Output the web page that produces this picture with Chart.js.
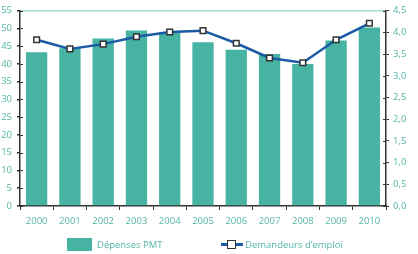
<!DOCTYPE html>
<html>
<head>
<meta charset="utf-8">
<script src="https://cdn.jsdelivr.net/npm/chart.js@4.4.1/dist/chart.umd.min.js"></script>
<style>
    body { margin: 0; background: #fff; }
    #wrap { position: relative; width: 418px; height: 254px; }
    .legend { position: absolute; top: 237px; height: 14px; display: flex; align-items: center;
              font-family: "Open Sans", sans-serif; font-size: 9.5px; color: #52b6a7; }
    .patch { width: 25px; height: 13px; background: #47b3a3; margin-right: 5px; }
    .lineKey { position: relative; width: 22px; height: 13px; margin-right: 2px; }
    .lineKey::before { content: ''; position: absolute; left: 0; right: 0; top: 5px; height: 3px; background: #1b5aa5; }
    .lineKey::after { content: ''; position: absolute; left: 6px; top: 2px; width: 7px; height: 7px;
                      background: #fff; border: 1.5px solid #333; }
</style>
</head>
<body>
<div id="wrap">
    <canvas id="chart"></canvas>
    <div class="legend" style="left:67px"><span class="patch"></span>Dépenses PMT</div>
    <div class="legend" style="left:221px"><span class="lineKey"></span>Demandeurs d’emploi</div>
</div>
<script>
const years = ['2000', '2001', '2002', '2003', '2004', '2005', '2006', '2007', '2008', '2009', '2010'];
const depensesPMT = [43.3, 44.4, 47.2, 49.4, 48.7, 46.1, 44.0, 42.8, 40.0, 46.6, 50.3];
const demandeursEmploi = [3.83, 3.62, 3.73, 3.90, 4.01, 4.04, 3.75, 3.41, 3.30, 3.83, 4.21];

const tealText = '#52b6a7';
const axisColor = '#333';
const tickFont = { family: 'Open Sans', size: 9.5 };

// inner half of the tick marks on both value axes (ticks cross the axis line)
const crossTicks = {
    id: 'crossTicks',
    afterDraw(chart) {
        const ctx = chart.ctx;
        ctx.save();
        ctx.strokeStyle = axisColor;
        ctx.lineWidth = 1;
        ['y', 'y1'].forEach(function (id) {
            const scale = chart.scales[id];
            const x = id === 'y' ? scale.right : scale.left;
            const dir = id === 'y' ? 1 : -1;
            scale.ticks.forEach(function (t, i) {
                const py = Math.round(scale.getPixelForTick(i)) + 0.5;
                ctx.beginPath();
                ctx.moveTo(x, py);
                ctx.lineTo(x + dir * 3, py);
                ctx.stroke();
            });
        });
        ctx.restore();
    }
};

new Chart(document.getElementById('chart'), {
    data: {
        labels: years,
        datasets: [{
            type: 'line',
            label: 'Demandeurs d’emploi',
            data: demandeursEmploi,
            yAxisID: 'y1',
            borderColor: '#1b5aa5',
            borderWidth: 2.5,
            tension: 0,
            pointStyle: 'rect',
            pointRadius: 4,
            pointBackgroundColor: '#fff',
            pointBorderColor: '#333',
            pointBorderWidth: 1.5,
            order: 0
        }, {
            type: 'bar',
            label: 'Dépenses PMT',
            data: depensesPMT,
            yAxisID: 'y',
            backgroundColor: '#47b3a3',
            categoryPercentage: 1,
            barPercentage: 0.64,
            order: 1
        }]
    },
    options: {
        responsive: true,
        maintainAspectRatio: false,
        animation: false,
        layout: { padding: { top: 10, bottom: 30, left: 0, right: 0 } },
        plugins: { legend: { display: false }, tooltip: { enabled: false } },
        scales: {
            x: {
                afterFit: function (s) { s.height = 18; },
                grid: { drawOnChartArea: false, offset: true, tickLength: 4, tickColor: axisColor },
                border: { color: axisColor, width: 1.5 },
                ticks: { color: tealText, font: tickFont, padding: 6 }
            },
            y: {
                position: 'left',
                min: 0,
                max: 55,
                afterFit: function (s) { s.width = 20; },
                grid: {
                    color: function (c) { return c.tick && c.tick.value === 55 ? '#a9d9d0' : 'rgba(0,0,0,0)'; },
                    tickColor: axisColor,
                    tickLength: 3,
                    lineWidth: 1.5
                },
                border: { color: axisColor, width: 1.5 },
                ticks: { stepSize: 5, color: tealText, font: tickFont, padding: 5 }
            },
            y1: {
                position: 'right',
                min: 0,
                max: 4.5,
                afterFit: function (s) { s.width = 32; },
                grid: { drawOnChartArea: false, tickColor: axisColor, tickLength: 3 },
                border: { color: axisColor, width: 1.5 },
                ticks: {
                    stepSize: 0.5,
                    color: tealText,
                    font: tickFont,
                    padding: 4,
                    callback: function (v) { return v.toFixed(1).replace('.', ','); }
                }
            }
        }
    },
    plugins: [crossTicks]
});
</script>
</body>
</html>
